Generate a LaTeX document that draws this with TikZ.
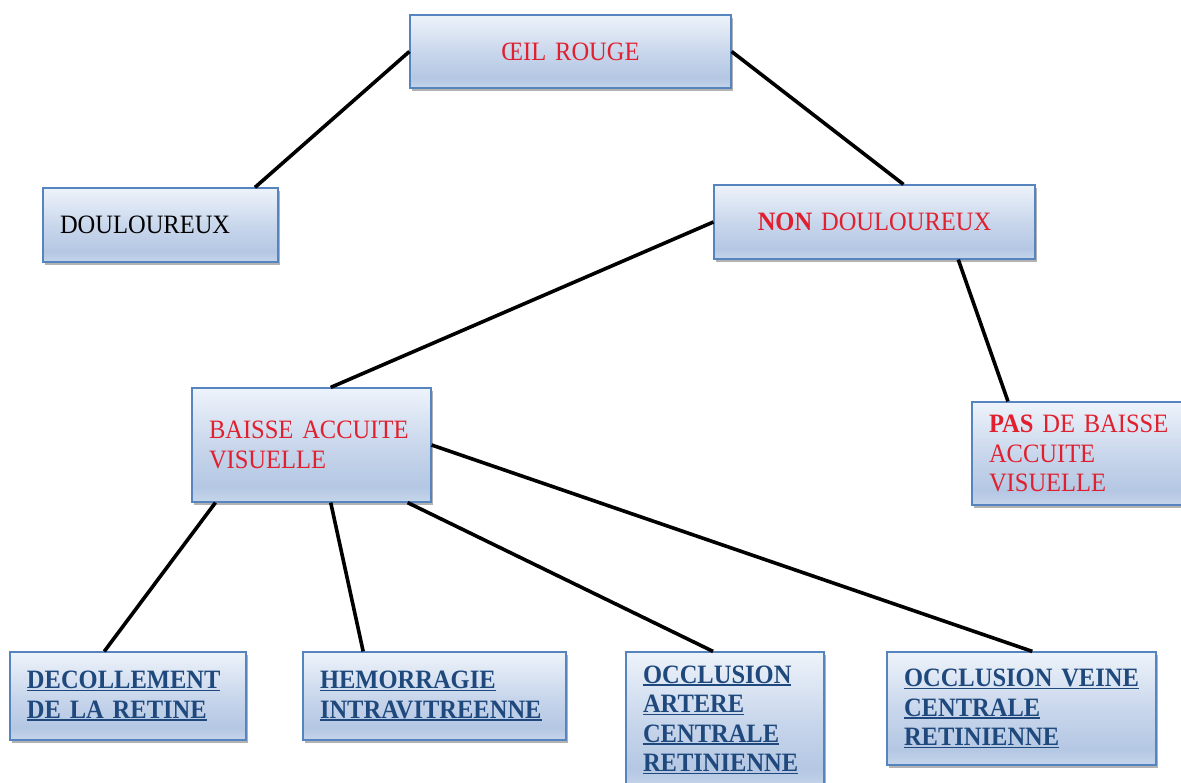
\documentclass[tikz,border=0pt]{standalone}
\usepackage{fontspec}
\setmainfont{Liberation Serif}[FakeStretch=0.925, WordSpace=0.7]
\usetikzlibrary{calc}
\usetikzlibrary{shadows}

\definecolor{panelline}{HTML}{5584BF}
\definecolor{redtxt}{HTML}{E0202E}
\definecolor{navytxt}{HTML}{1F497D}
\definecolor{shadetop}{HTML}{EEF3FA}
\definecolor{shademid}{HTML}{C9D7EC}
\definecolor{shadelow}{HTML}{B4C7E3}
\definecolor{shadebot}{HTML}{C5D5EA}
\pgfdeclareverticalshading{panelshade}{100bp}{color(0bp)=(shadebot); color(25bp)=(shadebot); color(32bp)=(shadelow); color(50bp)=(shademid); color(75bp)=(shadetop); color(100bp)=(shadetop)}
\newcommand{\ulbox}[1]{\leavevmode\setbox0=\hbox{#1}\rlap{\rule[-2.5pt]{\wd0}{1.4pt}}\box0}

\begin{document}
\begin{tikzpicture}[x=1pt, y=-1pt,
    panel/.style={draw=panelline, line width=1.2pt, shading=panelshade,
      inner xsep=17pt, inner ysep=0pt, align=left,
      font=\fontsize{26.5pt}{29.5pt}\selectfont,
      drop shadow={shadow xshift=1.5pt, shadow yshift=-3pt, fill=black, opacity=0.3}},
    hot/.style={text=redtxt},
    cold/.style={text=navytxt, font=\fontsize{26.5pt}{29.5pt}\selectfont\bfseries},
    link/.style={line width=3.6pt}]
            \useasboundingbox (0,0) rectangle (1181,783);

            \node[panel, hot, align=center, text width=287pt, minimum height=73pt] (oeil) at (570.5,51.5) {ŒIL ROUGE};
            \node[panel, text width=201pt, minimum height=74pt] (doul) at (160.5,225) {DOULOUREUX};
            \node[panel, hot, align=center, text width=287pt, minimum height=74pt] (nondoul) at (874.5,222) {\textbf{NON} DOULOUREUX};
            \node[panel, hot, text width=205pt, minimum height=114pt] (baisse) at (311.5,445) {BAISSE ACCUITE\\VISUELLE};
            \node[panel, hot, text width=180pt, minimum height=103pt] (pasbaisse) at (1079,453.5) {\textbf{PAS} DE BAISSE\\ACCUITE\\VISUELLE};

            \node[panel, cold, text width=202pt, minimum height=88pt] (decoll) at (128,696) {\ulbox{DECOLLEMENT}\\\ulbox{DE LA RETINE}};
            \node[panel, cold, text width=229pt, minimum height=88pt] (hemo) at (434.5,696) {\ulbox{HEMORRAGIE}\\\ulbox{INTRAVITREENNE}};
            \node[panel, cold, text width=164pt, minimum height=136pt] (artere) at (725,720) {\ulbox{OCCLUSION}\\\ulbox{ARTERE}\\\ulbox{CENTRALE}\\\ulbox{RETINIENNE}};
            \node[panel, cold, text width=235pt, minimum height=113pt] (veine) at (1021.5,708.5) {\ulbox{OCCLUSION VEINE}\\\ulbox{CENTRALE}\\\ulbox{RETINIENNE}};

            \draw[link] (oeil.west) -- ($(doul.north west)!0.9!(doul.north east)$);
            \draw[link] (oeil.east) -- ($(nondoul.north west)!0.59!(nondoul.north east)$);
            \draw[link] (nondoul.west) -- ($(baisse.north west)!0.58!(baisse.north east)$);
            \draw[link] ($(nondoul.south west)!0.76!(nondoul.south east)$) -- ($(pasbaisse.north west)!0.17!(pasbaisse.north east)$);
            \draw[link] ($(baisse.south west)!0.1!(baisse.south east)$) -- ($(decoll.north west)!0.4!(decoll.north east)$);
            \draw[link] ($(baisse.south west)!0.58!(baisse.south east)$) -- ($(hemo.north west)!0.23!(hemo.north east)$);
            \draw[link] ($(baisse.south west)!0.9!(baisse.south east)$) -- ($(artere.north west)!0.44!(artere.north east)$);
            \draw[link] (baisse.east) -- ($(veine.north west)!0.54!(veine.north east)$);
        \end{tikzpicture}
\end{document}
